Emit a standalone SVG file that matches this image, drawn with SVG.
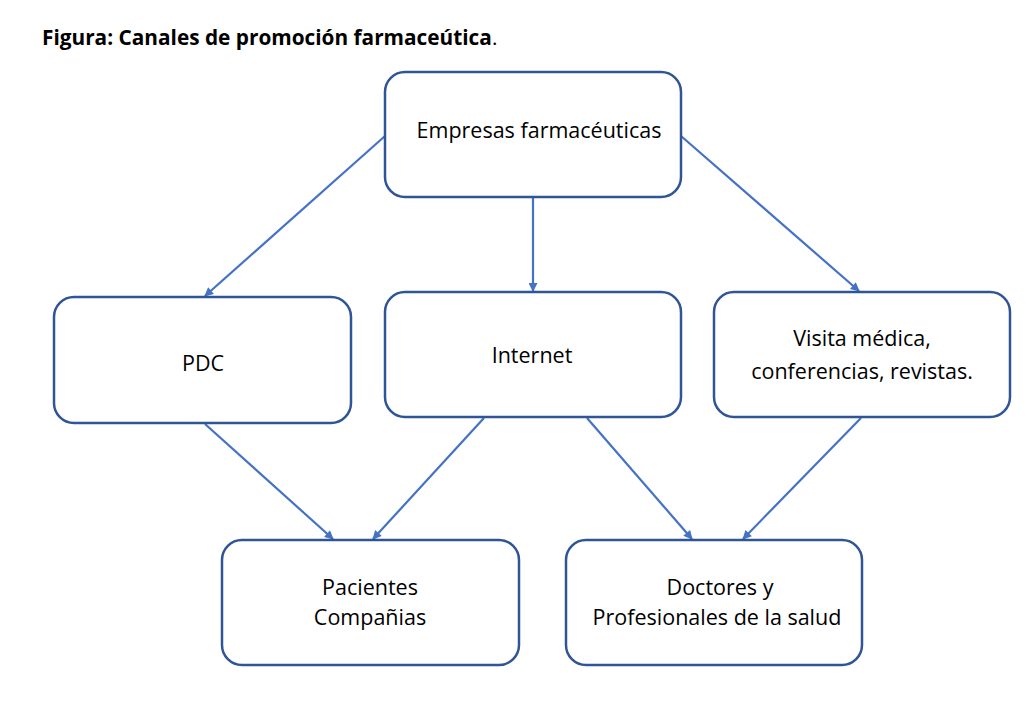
<svg xmlns="http://www.w3.org/2000/svg" width="1036" height="709" viewBox="0 0 1036 709">
<defs>
<marker id="ah" viewBox="0 0 10 10" refX="9" refY="5" markerWidth="10" markerHeight="9" orient="auto" markerUnits="userSpaceOnUse">
<path d="M0,0 L10,5 L0,10 z" fill="#4472C4"/>
</marker>
<style>
.box{fill:#fff;stroke:#2F5597;stroke-width:2.5}
.t{font-family:"Open Sans","Liberation Sans",sans-serif;font-size:21.5px;fill:#000;text-anchor:middle}
.c{stroke:#4472C4;stroke-width:2.2;fill:none;marker-end:url(#ah)}
</style>
</defs>
<rect width="1036" height="709" fill="#fff"/>
<text x="42" y="45" font-family="'Open Sans','Liberation Sans',sans-serif" font-size="20.8" fill="#000"><tspan font-weight="bold">Figura: Canales de promoción farmaceútica</tspan>.</text>
<g id="connectors">
<line class="c" x1="385" y1="136" x2="205" y2="296"/>
<line class="c" x1="533" y1="198" x2="533" y2="291"/>
<line class="c" x1="681" y1="136" x2="859" y2="291"/>
<line class="c" x1="205" y1="424" x2="333" y2="539"/>
<line class="c" x1="484" y1="418" x2="373" y2="539"/>
<line class="c" x1="587" y1="418" x2="692" y2="539"/>
<line class="c" x1="861" y1="418" x2="743" y2="539"/>
</g>
<g id="empresas"><rect class="box" x="385" y="72" width="296" height="125" rx="20"/><text class="t" x="539" y="138">Empresas farmacéuticas</text></g>
<g id="pdc"><rect class="box" x="54" y="297" width="297" height="126" rx="20"/><text class="t" x="203" y="371">PDC</text></g>
<g id="internet"><rect class="box" x="385" y="292" width="296" height="125" rx="20"/><text class="t" x="532" y="363">Internet</text></g>
<g id="visita"><rect class="box" x="714" y="292" width="296" height="125" rx="20"/><text class="t" x="862" y="346">Visita médica,</text><text class="t" x="862" y="379">conferencias, revistas.</text></g>
<g id="pacientes"><rect class="box" x="222" y="540" width="297" height="125" rx="20"/><text class="t" x="370" y="595">Pacientes</text><text class="t" x="370" y="625">Compañias</text></g>
<g id="doctores"><rect class="box" x="566" y="540" width="296" height="125" rx="20"/><text class="t" x="720" y="595">Doctores y</text><text class="t" x="717" y="625">Profesionales de la salud</text></g>
</svg>
